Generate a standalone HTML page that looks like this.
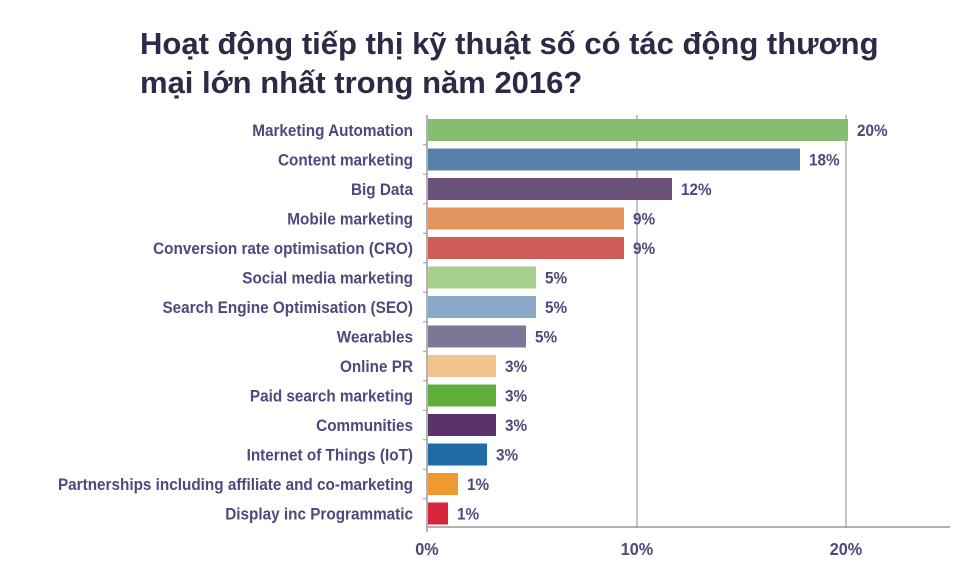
<!DOCTYPE html>
<html><head><meta charset="utf-8"><style>
body{margin:0;background:#fff;width:967px;height:564px;overflow:hidden;}
</style></head><body>
<svg width="967" height="564" xmlns="http://www.w3.org/2000/svg">
<text x="140" y="54" font-family="Liberation Sans, sans-serif" font-weight="bold" font-size="31" fill="#2b2a47">Hoạt động tiếp thị kỹ thuật số có tác động thương</text>
<text x="140" y="93" font-family="Liberation Sans, sans-serif" font-weight="bold" font-size="31" fill="#2b2a47">mại lớn nhất trong năm 2016?</text>
<g stroke="#c4c4c4" stroke-width="2">
<line x1="637" y1="115" x2="637" y2="528"/>
<line x1="846" y1="115" x2="846" y2="528"/>
</g>
<line x1="427" y1="527" x2="950" y2="527" stroke="#999" stroke-width="1.5"/>
<line x1="427" y1="115" x2="427" y2="532" stroke="#999" stroke-width="1.5"/>
<g stroke="#999">
<line x1="423" x2="427" y1="144.75" y2="144.75"/><line x1="423" x2="427" y1="174.25" y2="174.25"/><line x1="423" x2="427" y1="203.75" y2="203.75"/><line x1="423" x2="427" y1="233.25" y2="233.25"/><line x1="423" x2="427" y1="262.75" y2="262.75"/><line x1="423" x2="427" y1="292.25" y2="292.25"/><line x1="423" x2="427" y1="321.75" y2="321.75"/><line x1="423" x2="427" y1="351.25" y2="351.25"/><line x1="423" x2="427" y1="380.75" y2="380.75"/><line x1="423" x2="427" y1="410.25" y2="410.25"/><line x1="423" x2="427" y1="439.75" y2="439.75"/><line x1="423" x2="427" y1="469.25" y2="469.25"/><line x1="423" x2="427" y1="498.75" y2="498.75"/>
</g>
<rect x="428" y="119" width="420" height="22" fill="#84bf6f"/>
<rect x="428" y="148.5" width="372" height="22" fill="#5580a8"/>
<rect x="428" y="178" width="244" height="22" fill="#6b5278"/>
<rect x="428" y="207.5" width="196" height="22" fill="#e3955d"/>
<rect x="428" y="237" width="196" height="22" fill="#cf5d55"/>
<rect x="428" y="266.5" width="108" height="22" fill="#a8d08d"/>
<rect x="428" y="296" width="108" height="22" fill="#8aa9c8"/>
<rect x="428" y="325.5" width="98" height="22" fill="#7f7596"/>
<rect x="428" y="355" width="68" height="22" fill="#f2c28f"/>
<rect x="428" y="384.5" width="68" height="22" fill="#5fae3c"/>
<rect x="428" y="414" width="68" height="22" fill="#5a3468"/>
<rect x="428" y="443.5" width="59" height="22" fill="#1f6ba6"/>
<rect x="428" y="473" width="30" height="22" fill="#ee9a2e"/>
<rect x="428" y="502.5" width="20" height="22" fill="#d6263b"/>
<g transform="scale(0.9 1)" font-family="Liberation Sans, sans-serif" font-weight="bold" font-size="17" fill="#4b4a7d">
<g text-anchor="end">
<text x="458.9" y="136">Marketing Automation</text>
<text x="458.9" y="165.5">Content marketing</text>
<text x="458.9" y="195">Big Data</text>
<text x="458.9" y="224.5">Mobile marketing</text>
<text x="458.9" y="254">Conversion rate optimisation (CRO)</text>
<text x="458.9" y="283.5">Social media marketing</text>
<text x="458.9" y="313">Search Engine Optimisation (SEO)</text>
<text x="458.9" y="342.5">Wearables</text>
<text x="458.9" y="372">Online PR</text>
<text x="458.9" y="401.5">Paid search marketing</text>
<text x="458.9" y="431">Communities</text>
<text x="458.9" y="460.5">Internet of Things (IoT)</text>
<text x="458.9" y="490">Partnerships including affiliate and co-marketing</text>
<text x="458.9" y="519.5">Display inc Programmatic</text>
</g>
<text x="952.2" y="136">20%</text>
<text x="898.9" y="165.5">18%</text>
<text x="756.7" y="195">12%</text>
<text x="703.3" y="224.5">9%</text>
<text x="703.3" y="254">9%</text>
<text x="605.6" y="283.5">5%</text>
<text x="605.6" y="313">5%</text>
<text x="594.4" y="342.5">5%</text>
<text x="561.1" y="372">3%</text>
<text x="561.1" y="401.5">3%</text>
<text x="561.1" y="431">3%</text>
<text x="551.1" y="460.5">3%</text>
<text x="518.9" y="490">1%</text>
<text x="507.8" y="519.5">1%</text>
<g text-anchor="middle" font-size="18">
<text x="474.4" y="555">0%</text>
<text x="707.8" y="555">10%</text>
<text x="940" y="555">20%</text>
</g>
</g>
</svg>
</body></html>
